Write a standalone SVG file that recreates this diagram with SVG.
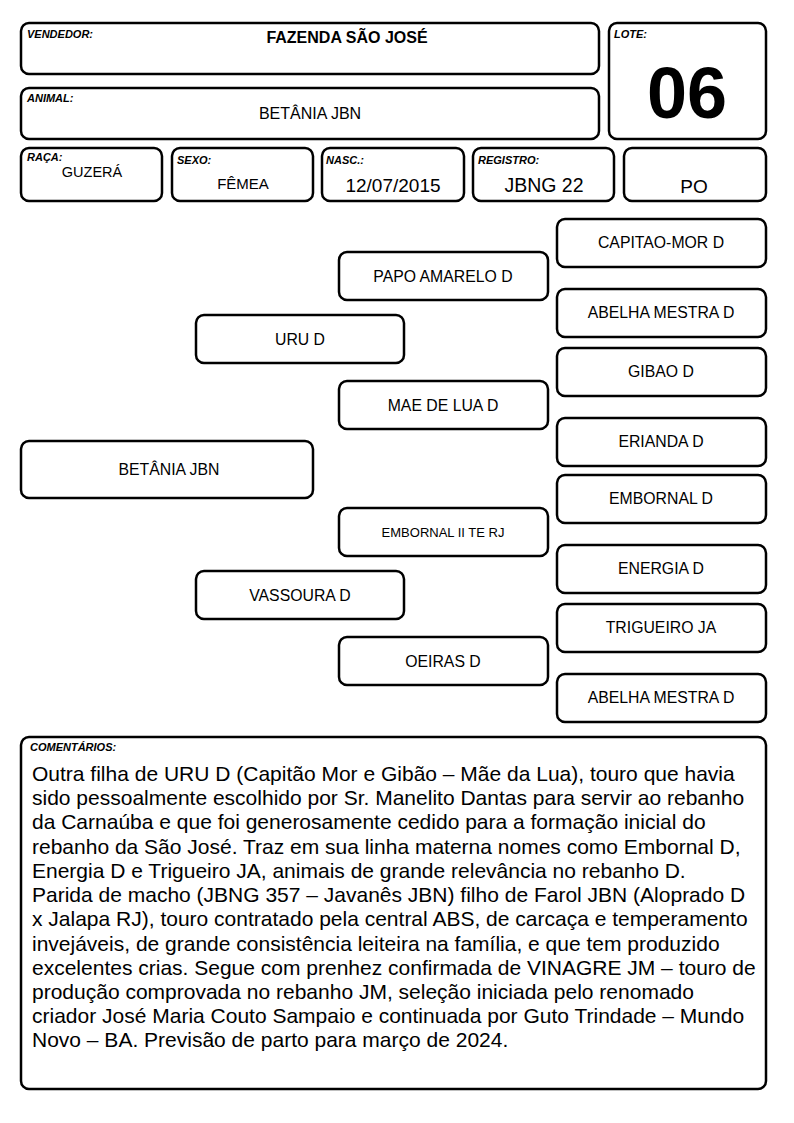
<svg xmlns="http://www.w3.org/2000/svg" width="794" height="1123" viewBox="0 0 794 1123">
<style>
.b{fill:#fff;stroke:#000;stroke-width:2.5}
.lbl{font-family:"Liberation Sans",Arial,sans-serif;font-size:11px;font-weight:bold;font-style:italic;fill:#000}
.v{font-family:"Liberation Sans",Arial,sans-serif;font-size:15px;fill:#000;text-anchor:middle}
.v18{font-family:"Liberation Sans",Arial,sans-serif;font-size:19px;fill:#000;text-anchor:middle}
.n{font-family:"Liberation Sans",Arial,sans-serif;font-size:15.8px;fill:#000;text-anchor:middle}
.c{font-family:"Liberation Sans",Arial,sans-serif;font-size:21px;fill:#000}
</style>
<rect width="794" height="1123" fill="#fff"/>
<g id="vendedor"><rect class="b" x="21" y="23" width="578" height="51" rx="8"/><text class="lbl" x="27" y="38">VENDEDOR:</text><text class="v" x="347" y="43" style="font-size:16px;font-weight:bold">FAZENDA SÃO JOSÉ</text></g>
<g id="animal"><rect class="b" x="21" y="88" width="578" height="51" rx="8"/><text class="lbl" x="27" y="102">ANIMAL:</text><text class="v" x="310" y="119" style="font-size:16px">BETÂNIA JBN</text></g>
<g id="lote"><rect class="b" x="609" y="23" width="157" height="116" rx="8"/><text class="lbl" x="614" y="38">LOTE:</text><text x="687" y="118" style="font-family:'Liberation Sans',Arial,sans-serif;font-size:72px;font-weight:bold;text-anchor:middle">06</text></g>
<g id="raca"><rect class="b" x="21" y="148" width="141" height="53" rx="8"/><text class="lbl" x="27" y="161">RAÇA:</text><text class="v" x="92" y="177" style="font-size:14.5px">GUZERÁ</text></g>
<g id="sexo"><rect class="b" x="172" y="148" width="141" height="53" rx="8"/><text class="lbl" x="177" y="164">SEXO:</text><text class="v" x="243" y="189">FÊMEA</text></g>
<g id="nasc"><rect class="b" x="322" y="148" width="142" height="53" rx="8"/><text class="lbl" x="326" y="164">NASC.:</text><text class="v18" x="393" y="192">12/07/2015</text></g>
<g id="registro"><rect class="b" x="473" y="148" width="141" height="53" rx="8"/><text class="lbl" x="478" y="164">REGISTRO:</text><text class="v18" x="544" y="192" style="font-size:19.5px">JBNG 22</text></g>
<g id="po"><rect class="b" x="624" y="148" width="142" height="53" rx="8"/><text class="v18" x="694" y="193">PO</text></g>
<g id="connectors"></g>
<g id="betania"><rect class="b" x="21" y="441" width="292" height="57" rx="8"/><text class="n" x="169" y="475">BETÂNIA JBN</text></g>
<g id="uru"><rect class="b" x="196" y="315" width="208" height="48" rx="8"/><text class="n" x="300" y="345">URU D</text></g>
<g id="vassoura"><rect class="b" x="196" y="571" width="208" height="48" rx="8"/><text class="n" x="300" y="601">VASSOURA D</text></g>
<g id="papo"><rect class="b" x="339" y="252" width="209" height="48" rx="8"/><text class="n" x="443" y="282">PAPO AMARELO D</text></g>
<g id="maedelua"><rect class="b" x="339" y="381" width="209" height="48" rx="8"/><text class="n" x="443" y="411">MAE DE LUA D</text></g>
<g id="embornal2"><rect class="b" x="339" y="508" width="209" height="48" rx="8"/><text class="n" x="443" y="537" style="font-size:13px">EMBORNAL II TE RJ</text></g>
<g id="oeiras"><rect class="b" x="339" y="637" width="209" height="48" rx="8"/><text class="n" x="443" y="667">OEIRAS D</text></g>
<g id="capitao"><rect class="b" x="557" y="219" width="209" height="48" rx="8"/><text class="n" x="661" y="248">CAPITAO-MOR D</text></g>
<g id="abelha1"><rect class="b" x="557" y="289" width="209" height="48" rx="8"/><text class="n" x="661" y="318">ABELHA MESTRA D</text></g>
<g id="gibao"><rect class="b" x="557" y="348" width="209" height="48" rx="8"/><text class="n" x="661" y="377">GIBAO D</text></g>
<g id="erianda"><rect class="b" x="557" y="418" width="209" height="48" rx="8"/><text class="n" x="661" y="447">ERIANDA D</text></g>
<g id="embornal"><rect class="b" x="557" y="475" width="209" height="48" rx="8"/><text class="n" x="661" y="504">EMBORNAL D</text></g>
<g id="energia"><rect class="b" x="557" y="545" width="209" height="48" rx="8"/><text class="n" x="661" y="574">ENERGIA D</text></g>
<g id="trigueiro"><rect class="b" x="557" y="604" width="209" height="48" rx="8"/><text class="n" x="661" y="633">TRIGUEIRO JA</text></g>
<g id="abelha2"><rect class="b" x="557" y="674" width="209" height="48" rx="8"/><text class="n" x="661" y="703">ABELHA MESTRA D</text></g>
<g id="comentarios"><rect class="b" x="21" y="737" width="745" height="352" rx="8"/><text class="lbl" x="30" y="751">COMENTÁRIOS:</text>
<text class="c" x="32" y="781">Outra filha de URU D (Capitão Mor e Gibão – Mãe da Lua), touro que havia</text>
<text class="c" x="32" y="805">sido pessoalmente escolhido por Sr. Manelito Dantas para servir ao rebanho</text>
<text class="c" x="32" y="829">da Carnaúba e que foi generosamente cedido para a formação inicial do</text>
<text class="c" x="32" y="854">rebanho da São José. Traz em sua linha materna nomes como Embornal D,</text>
<text class="c" x="32" y="878">Energia D e Trigueiro JA, animais de grande relevância no rebanho D.</text>
<text class="c" x="32" y="902">Parida de macho (JBNG 357 – Javanês JBN) filho de Farol JBN (Aloprado D</text>
<text class="c" x="32" y="926">x Jalapa RJ), touro contratado pela central ABS, de carcaça e temperamento</text>
<text class="c" x="32" y="951">invejáveis, de grande consistência leiteira na família, e que tem produzido</text>
<text class="c" x="32" y="975">excelentes crias. Segue com prenhez confirmada de VINAGRE JM – touro de</text>
<text class="c" x="32" y="999">produção comprovada no rebanho JM, seleção iniciada pelo renomado</text>
<text class="c" x="32" y="1023">criador José Maria Couto Sampaio e continuada por Guto Trindade – Mundo</text>
<text class="c" x="32" y="1047">Novo – BA. Previsão de parto para março de 2024.</text>
</g>
</svg>
